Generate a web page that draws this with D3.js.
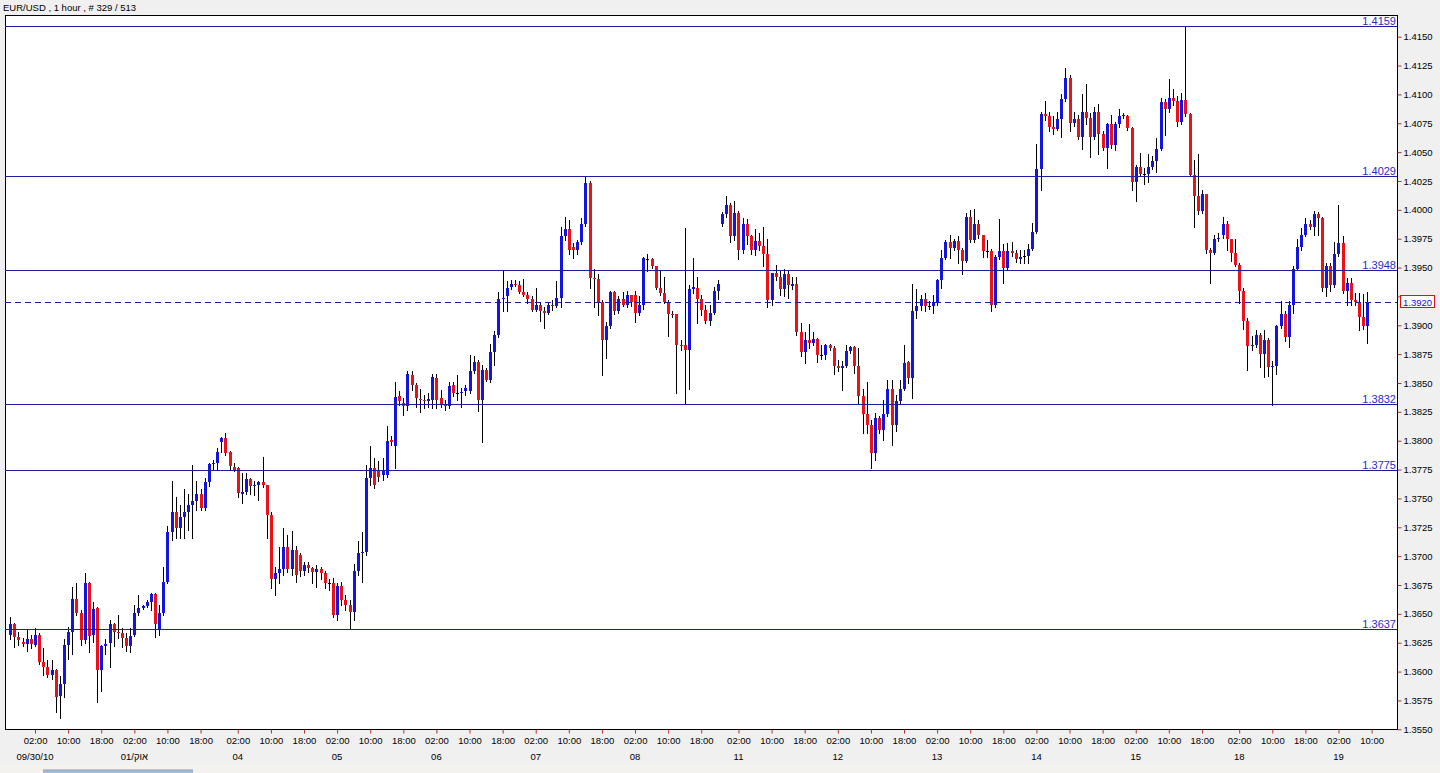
<!DOCTYPE html>
<html><head><meta charset="utf-8">
<script src="https://cdn.jsdelivr.net/npm/d3@7"></script>
<style>
html,body{margin:0;padding:0;background:#f0f0f0;overflow:hidden}
svg{display:block}
text{font-family:"Liberation Sans",Arial,sans-serif}
</style></head><body><svg id="c" width="1440" height="773"></svg>
<script>
// EUR/USD 1 hour candles, bar 0 .. 328
const open=[1.3632,1.3641,1.3630,1.3626,1.3624,1.3628,1.3623,1.3632,1.3608,1.3604,1.3597,1.3601,1.3579,1.3589,1.3623,1.3634,1.3663,1.3651,1.3627,1.3677,1.3632,1.3655,1.3601,1.3622,1.3625,1.3641,1.3634,1.3633,1.3629,1.3622,1.3632,1.3651,1.3655,1.3657,1.3660,1.3667,1.3636,1.3651,1.3678,1.3721,1.3738,1.3724,1.3734,1.3738,1.3744,1.3748,1.3754,1.3742,1.3764,1.3780,1.3781,1.3799,1.3802,1.3790,1.3777,1.3776,1.3754,1.3756,1.3767,1.3761,1.3762,1.3764,1.3762,1.3736,1.3680,1.3685,1.3689,1.3708,1.3689,1.3705,1.3701,1.3687,1.3692,1.3690,1.3686,1.3689,1.3685,1.3677,1.3677,1.3649,1.3674,1.3662,1.3658,1.3652,1.3687,1.3703,1.3704,1.3768,1.3776,1.3775,1.3770,1.3770,1.3801,1.3795,1.3839,1.3833,1.3830,1.3857,1.3848,1.3836,1.3835,1.3834,1.3835,1.3854,1.3837,1.3832,1.3830,1.3848,1.3841,1.3841,1.3843,1.3843,1.3860,1.3868,1.3835,1.3861,1.3853,1.3877,1.3892,1.3923,1.3925,1.3933,1.3936,1.3935,1.3929,1.3926,1.3923,1.3913,1.3918,1.3912,1.3911,1.3918,1.3917,1.3924,1.3977,1.3983,1.3968,1.3965,1.3972,1.3988,1.4023,1.3941,1.3940,1.3920,1.3887,1.3899,1.3929,1.3912,1.3923,1.3918,1.3926,1.3926,1.3911,1.3918,1.3957,1.3957,1.3951,1.3932,1.3928,1.3920,1.3910,1.3910,1.3883,1.3883,1.3879,1.3931,1.3932,1.3923,1.3913,1.3904,1.3911,1.3930,1.3988,1.3996,1.4004,1.3977,1.3997,1.3965,1.3988,1.3977,1.3965,1.3973,1.3969,1.3962,1.3922,1.3945,1.3942,1.3931,1.3944,1.3934,1.3936,1.3894,1.3877,1.3887,1.3885,1.3888,1.3874,1.3874,1.3883,1.3880,1.3865,1.3863,1.3865,1.3878,1.3881,1.3865,1.3839,1.3823,1.3814,1.3789,1.3820,1.3809,1.3823,1.3845,1.3814,1.3834,1.3845,1.3868,1.3854,1.3912,1.3917,1.3923,1.3917,1.3917,1.3920,1.3939,1.3958,1.3972,1.3967,1.3973,1.3965,1.3956,1.3994,1.3974,1.3988,1.3978,1.3964,1.3964,1.3918,1.3959,1.3964,1.3950,1.3964,1.3963,1.3957,1.3960,1.3960,1.3966,1.3981,1.4035,1.4083,1.4081,1.4072,1.4070,1.4079,1.4096,1.4114,1.4075,1.4079,1.4063,1.4085,1.4080,1.4063,1.4085,1.4066,1.4054,1.4074,1.4056,1.4074,1.4081,1.4081,1.4071,1.4024,1.4037,1.4031,1.4031,1.4037,1.4042,1.4053,1.4093,1.4087,1.4097,1.4094,1.4076,1.4095,1.4083,1.4030,1.4012,1.3999,1.4014,1.3965,1.3963,1.3975,1.3978,1.3988,1.3975,1.3963,1.3952,1.3930,1.3904,1.3882,1.3883,1.3892,1.3875,1.3887,1.3864,1.3865,1.3899,1.3910,1.3890,1.3918,1.3949,1.3968,1.3978,1.3988,1.3985,1.3996,1.3993,1.3932,1.3951,1.3935,1.3962,1.3971,1.3930,1.3937,1.3922,1.3920,1.3907,1.3899];
const high=[1.3647,1.3642,1.3634,1.3629,1.3637,1.3632,1.3638,1.3633,1.3620,1.3610,1.3610,1.3602,1.3596,1.3628,1.3639,1.3673,1.3677,1.3653,1.3685,1.3678,1.3660,1.3656,1.3623,1.3628,1.3645,1.3642,1.3649,1.3638,1.3633,1.3638,1.3658,1.3666,1.3658,1.3662,1.3668,1.3668,1.3658,1.3691,1.3726,1.3765,1.3751,1.3744,1.3758,1.3754,1.3779,1.3765,1.3758,1.3768,1.3781,1.3783,1.3794,1.3803,1.3807,1.3791,1.3781,1.3777,1.3772,1.3772,1.3768,1.3765,1.3765,1.3786,1.3762,1.3738,1.3691,1.3708,1.3724,1.3718,1.3722,1.3709,1.3703,1.3695,1.3695,1.3691,1.3692,1.3691,1.3687,1.3680,1.3681,1.3677,1.3678,1.3666,1.3662,1.3693,1.3713,1.3721,1.3779,1.3795,1.3785,1.3782,1.3785,1.3813,1.3804,1.3851,1.3843,1.3837,1.3860,1.3860,1.3850,1.3845,1.3840,1.3841,1.3858,1.3858,1.3844,1.3835,1.3851,1.3851,1.3857,1.3846,1.3848,1.3874,1.3873,1.3870,1.3866,1.3863,1.3884,1.3895,1.3929,1.3948,1.3938,1.3939,1.3939,1.3938,1.3940,1.3929,1.3925,1.3932,1.3919,1.3916,1.3920,1.3922,1.3938,1.3985,1.3994,1.3991,1.3971,1.3974,1.3993,1.4029,1.4025,1.3949,1.3944,1.3922,1.3903,1.3930,1.3930,1.3925,1.3929,1.3930,1.3926,1.3930,1.3925,1.3959,1.3962,1.3958,1.3951,1.3947,1.3942,1.3922,1.3912,1.3910,1.3887,1.3984,1.3935,1.3958,1.3942,1.3926,1.3918,1.3918,1.3933,1.3939,1.3998,1.4012,1.4006,1.4008,1.3999,1.3993,1.3992,1.3978,1.3983,1.3980,1.3985,1.3975,1.3945,1.3952,1.3947,1.3949,1.3948,1.3942,1.3942,1.3902,1.3894,1.3901,1.3894,1.3889,1.3883,1.3884,1.3884,1.3882,1.3870,1.3869,1.3883,1.3882,1.3882,1.3880,1.3845,1.3851,1.3818,1.3824,1.3821,1.3835,1.3853,1.3853,1.3840,1.3853,1.3883,1.3869,1.3936,1.3931,1.3926,1.3928,1.3921,1.3926,1.3940,1.3965,1.3974,1.3978,1.3975,1.3977,1.3967,1.3997,1.4000,1.4001,1.3991,1.3978,1.3974,1.3966,1.3961,1.3992,1.3970,1.3971,1.3972,1.3965,1.3965,1.3965,1.3970,1.3989,1.4057,1.4085,1.4094,1.4085,1.4081,1.4085,1.4100,1.4123,1.4117,1.4085,1.4082,1.4100,1.4109,1.4084,1.4089,1.4092,1.4068,1.4075,1.4082,1.4076,1.4087,1.4084,1.4082,1.4072,1.4039,1.4049,1.4036,1.4048,1.4047,1.4062,1.4097,1.4096,1.4113,1.4105,1.4099,1.4101,1.4159,1.4084,1.4043,1.4048,1.4017,1.4014,1.3967,1.3978,1.3980,1.3994,1.3990,1.3975,1.3975,1.3954,1.3932,1.3906,1.3891,1.3896,1.3893,1.3896,1.3889,1.3869,1.3900,1.3921,1.3912,1.3921,1.3951,1.3975,1.3984,1.3993,1.3991,1.3999,1.3998,1.3994,1.3954,1.3954,1.3972,1.4004,1.3977,1.3941,1.3941,1.3928,1.3928,1.3927,1.3929];
const low=[1.3628,1.3621,1.3623,1.3622,1.3618,1.3620,1.3622,1.3607,1.3597,1.3595,1.3594,1.3565,1.3560,1.3578,1.3611,1.3615,1.3649,1.3623,1.3625,1.3617,1.3626,1.3574,1.3583,1.3615,1.3604,1.3622,1.3629,1.3621,1.3618,1.3617,1.3631,1.3649,1.3654,1.3656,1.3653,1.3630,1.3632,1.3649,1.3677,1.3714,1.3716,1.3716,1.3716,1.3723,1.3716,1.3740,1.3740,1.3740,1.3761,1.3775,1.3775,1.3790,1.3788,1.3775,1.3774,1.3751,1.3746,1.3754,1.3754,1.3753,1.3749,1.3760,1.3716,1.3672,1.3666,1.3677,1.3684,1.3686,1.3684,1.3678,1.3683,1.3684,1.3686,1.3677,1.3673,1.3680,1.3672,1.3671,1.3647,1.3645,1.3658,1.3653,1.3638,1.3645,1.3684,1.3678,1.3701,1.3762,1.3759,1.3765,1.3766,1.3769,1.3796,1.3776,1.3831,1.3822,1.3827,1.3844,1.3829,1.3825,1.3828,1.3829,1.3828,1.3828,1.3829,1.3827,1.3828,1.3839,1.3835,1.3829,1.3840,1.3841,1.3859,1.3826,1.3799,1.3852,1.3851,1.3866,1.3890,1.3912,1.3912,1.3931,1.3934,1.3928,1.3925,1.3919,1.3912,1.3912,1.3904,1.3898,1.3910,1.3913,1.3916,1.3916,1.3974,1.3962,1.3958,1.3962,1.3970,1.3986,1.3932,1.3916,1.3909,1.3857,1.3872,1.3898,1.3910,1.3911,1.3917,1.3916,1.3917,1.3903,1.3909,1.3914,1.3947,1.3950,1.3931,1.3926,1.3919,1.3891,1.3907,1.3841,1.3879,1.3833,1.3845,1.3928,1.3902,1.3909,1.3902,1.3900,1.3910,1.3923,1.3986,1.3994,1.3972,1.3974,1.3957,1.3963,1.3970,1.3962,1.3961,1.3965,1.3951,1.3916,1.3918,1.3939,1.3926,1.3925,1.3924,1.3931,1.3892,1.3873,1.3867,1.3880,1.3883,1.3868,1.3871,1.3871,1.3879,1.3858,1.3860,1.3844,1.3864,1.3876,1.3859,1.3833,1.3807,1.3807,1.3776,1.3783,1.3807,1.3801,1.3821,1.3796,1.3808,1.3832,1.3844,1.3850,1.3837,1.3906,1.3913,1.3912,1.3914,1.3911,1.3918,1.3932,1.3957,1.3958,1.3965,1.3954,1.3944,1.3955,1.3972,1.3972,1.3976,1.3959,1.3959,1.3912,1.3916,1.3957,1.3937,1.3948,1.3960,1.3955,1.3954,1.3954,1.3954,1.3965,1.3980,1.4017,1.4078,1.4068,1.4066,1.4069,1.4063,1.4094,1.4068,1.4073,1.4061,1.4053,1.4074,1.4046,1.4061,1.4048,1.4052,1.4036,1.4054,1.4052,1.4072,1.4080,1.4069,1.4017,1.4008,1.4029,1.4022,1.4024,1.4035,1.4033,1.4052,1.4065,1.4085,1.4091,1.4073,1.4074,1.4081,1.4029,1.3985,1.3996,1.3997,1.3963,1.3937,1.3962,1.3973,1.3976,1.3965,1.3956,1.3951,1.3919,1.3897,1.3861,1.3879,1.3881,1.3864,1.3855,1.3856,1.3831,1.3858,1.3898,1.3886,1.3881,1.3911,1.3948,1.3965,1.3977,1.3983,1.3978,1.3978,1.3930,1.3925,1.3930,1.3933,1.3960,1.3928,1.3918,1.3918,1.3918,1.3896,1.3897,1.3885];
const close=[1.3641,1.3630,1.3627,1.3624,1.3628,1.3624,1.3632,1.3608,1.3604,1.3597,1.3601,1.3578,1.3589,1.3623,1.3634,1.3663,1.3651,1.3627,1.3677,1.3631,1.3654,1.3601,1.3622,1.3624,1.3641,1.3634,1.3633,1.3629,1.3622,1.3631,1.3651,1.3655,1.3657,1.3660,1.3667,1.3641,1.3651,1.3678,1.3721,1.3738,1.3724,1.3734,1.3738,1.3744,1.3748,1.3754,1.3742,1.3764,1.3780,1.3781,1.3790,1.3802,1.3789,1.3778,1.3775,1.3755,1.3756,1.3767,1.3761,1.3762,1.3764,1.3762,1.3736,1.3680,1.3685,1.3689,1.3708,1.3689,1.3705,1.3684,1.3687,1.3692,1.3690,1.3686,1.3689,1.3685,1.3677,1.3677,1.3649,1.3674,1.3662,1.3658,1.3652,1.3687,1.3703,1.3704,1.3768,1.3776,1.3762,1.3769,1.3775,1.3800,1.3799,1.3838,1.3834,1.3830,1.3858,1.3848,1.3837,1.3835,1.3834,1.3836,1.3855,1.3835,1.3831,1.3830,1.3847,1.3841,1.3841,1.3842,1.3846,1.3860,1.3868,1.3835,1.3861,1.3853,1.3877,1.3892,1.3923,1.3924,1.3932,1.3936,1.3935,1.3929,1.3926,1.3923,1.3913,1.3918,1.3912,1.3911,1.3918,1.3917,1.3924,1.3977,1.3983,1.3965,1.3965,1.3972,1.3988,1.4023,1.3941,1.3940,1.3920,1.3887,1.3899,1.3929,1.3912,1.3923,1.3918,1.3926,1.3920,1.3911,1.3918,1.3958,1.3957,1.3951,1.3932,1.3928,1.3920,1.3910,1.3909,1.3883,1.3882,1.3879,1.3931,1.3933,1.3923,1.3913,1.3904,1.3911,1.3930,1.3936,1.3996,1.4004,1.3977,1.3997,1.3965,1.3988,1.3977,1.3965,1.3973,1.3969,1.3962,1.3922,1.3945,1.3942,1.3931,1.3944,1.3935,1.3936,1.3894,1.3877,1.3887,1.3885,1.3888,1.3874,1.3874,1.3883,1.3880,1.3865,1.3863,1.3865,1.3878,1.3881,1.3865,1.3839,1.3823,1.3814,1.3789,1.3820,1.3809,1.3823,1.3845,1.3814,1.3834,1.3845,1.3867,1.3854,1.3912,1.3917,1.3923,1.3917,1.3917,1.3920,1.3939,1.3958,1.3972,1.3967,1.3973,1.3965,1.3956,1.3994,1.3974,1.3988,1.3978,1.3964,1.3964,1.3918,1.3959,1.3964,1.3950,1.3964,1.3963,1.3957,1.3959,1.3960,1.3966,1.3981,1.4035,1.4083,1.4081,1.4072,1.4070,1.4079,1.4096,1.4114,1.4075,1.4079,1.4063,1.4085,1.4080,1.4063,1.4085,1.4066,1.4054,1.4074,1.4056,1.4074,1.4081,1.4082,1.4071,1.4024,1.4037,1.4031,1.4031,1.4037,1.4042,1.4053,1.4093,1.4087,1.4097,1.4094,1.4076,1.4095,1.4083,1.4030,1.4012,1.3999,1.4014,1.3965,1.3963,1.3975,1.3976,1.3988,1.3975,1.3963,1.3952,1.3930,1.3904,1.3882,1.3883,1.3892,1.3875,1.3887,1.3864,1.3865,1.3899,1.3910,1.3890,1.3918,1.3949,1.3968,1.3978,1.3988,1.3985,1.3996,1.3993,1.3932,1.3951,1.3935,1.3962,1.3971,1.3930,1.3937,1.3922,1.3920,1.3907,1.3899,1.3920];

const priceTicks=[1.3550,1.3575,1.3600,1.3625,1.3650,1.3675,1.3700,1.3725,1.3750,1.3775,1.3800,1.3825,1.3850,1.3875,1.3900,1.3925,1.3950,1.3975,1.4000,1.4025,1.4050,1.4075,1.4100,1.4125,1.4150];
const timeTickBars=[6,14,22,30,38,46,55,63,71,79,87,95,103,111,119,127,135,143,151,159,167,176,184,192,200,208,216,224,232,240,248,256,264,272,280,288,297,305,313,321,329];
const timeTickLabels=["02:00","10:00","18:00","02:00","10:00","18:00","02:00","10:00","18:00","02:00","10:00","18:00","02:00","10:00","18:00","02:00","10:00","18:00","02:00","10:00","18:00","02:00","10:00","18:00","02:00","10:00","18:00","02:00","10:00","18:00","02:00","10:00","18:00","02:00","10:00","18:00","02:00","10:00","18:00","02:00","10:00"];
const dateBars=[6,30,55,79,103,127,151,176,200,224,248,272,297,321];
const dateLabels=["09/30/10","01/אוק","04","05","06","07","08","11","12","13","14","15","18","19"];
const levels=[1.4159,1.4029,1.3948,1.3832,1.3775,1.3637];
const bid=1.3920;
const title="EUR/USD , 1 hour , # 329 / 513";

const W=1440,H=773;
const P={left:5,right:1397,top:15,bottom:729};
const svg=d3.select("#c");
svg.append("rect").attr("width",W).attr("height",H).attr("fill","#f0f0f0");
svg.append("rect").attr("x",0).attr("y",764).attr("width",W).attr("height",9).attr("fill","#f4f2ee");
svg.append("rect").attr("x",43).attr("y",770).attr("width",150).attr("height",3).attr("fill","#a8bad0");
svg.append("rect").attr("x",43).attr("y",769.5).attr("width",150).attr("height",1).attr("fill","#8aa0bc");

svg.append("text").attr("x",3).attr("y",11).attr("font-size","9.5px").attr("fill","#000").text(title);

svg.append("rect").attr("x",P.left+0.5).attr("y",P.top+0.5)
  .attr("width",P.right-P.left).attr("height",P.bottom-P.top)
  .attr("fill","#fff").attr("stroke","#000").attr("shape-rendering","crispEdges");

const x=d3.scaleLinear().domain([0,328]).range([10.2,10.2+4.138*328]);
const y=d3.scaleLinear().domain([1.3550,1.4150]).range([729.3,36.7]);

const bars=d3.range(open.length).map(i=>({i,o:open[i],h:high[i],l:low[i],c:close[i]}));
const g=svg.append("g").attr("shape-rendering","crispEdges");
g.selectAll("line.w").data(bars).join("line").attr("class","w")
  .attr("x1",d=>Math.round(x(d.i))+0.5).attr("x2",d=>Math.round(x(d.i))+0.5)
  .attr("y1",d=>Math.round(y(d.h))).attr("y2",d=>Math.round(y(d.l))+1)
  .attr("stroke","#000").attr("stroke-width",1);
g.selectAll("rect.b").data(bars).join("rect").attr("class","b")
  .attr("x",d=>Math.round(x(d.i))-1).attr("width",3)
  .attr("y",d=>Math.round(y(Math.max(d.o,d.c))))
  .attr("height",d=>Math.max(1,Math.round(y(Math.min(d.o,d.c)))-Math.round(y(Math.max(d.o,d.c)))))
  .attr("fill",d=>d.c>d.o?"#1414e0":(d.c<d.o?"#ec1018":"#000"));

// level lines
const lv=svg.append("g");
levels.forEach(v=>{
  const yy=Math.round(y(v))+0.5;
  lv.append("line").attr("x1",P.left).attr("x2",P.right).attr("y1",yy).attr("y2",yy)
    .attr("stroke","#1c1ca6").attr("stroke-width",1);
  lv.append("text").attr("x",P.right-1).attr("y",yy-2).attr("text-anchor","end")
    .attr("font-size","11px").attr("fill","#2a2ac4").text(v.toFixed(4));
});
const by=Math.round(y(bid))+0.5;
lv.append("line").attr("x1",P.left).attr("x2",P.right).attr("y1",by).attr("y2",by)
  .attr("stroke","#1c1ca6").attr("stroke-width",1).attr("stroke-dasharray","6,4");

// y axis (the 1.3925 label sits under the bid box, as in the terminal)
const ya=svg.append("g").attr("transform",`translate(${P.right+0.5},0)`)
  .call(d3.axisRight(y).tickValues(priceTicks).tickFormat(d3.format(".4f")).tickSize(4).tickPadding(2));
ya.select(".domain").remove();
ya.selectAll(".tick line").attr("stroke","#b03030");
ya.selectAll(".tick text").attr("font-size","9.5px").attr("font-family","Liberation Sans, Arial, sans-serif").attr("fill","#000")
  .filter(d=>Math.abs(d-bid)<0.0010).remove();

// bid label box
svg.append("rect").attr("x",1400.5).attr("y",Math.round(y(bid))-6.5).attr("width",34).attr("height",12)
  .attr("fill","#fff").attr("stroke","#e01010");
svg.append("text").attr("x",1403).attr("y",Math.round(y(bid))+3.5).attr("font-size","9.5px").attr("fill","#1010e0").text(bid.toFixed(4));

// x axis
const xa=svg.append("g").attr("transform",`translate(0,${P.bottom+0.5})`)
  .call(d3.axisBottom(x).tickValues(timeTickBars).tickFormat((d,i)=>timeTickLabels[i]).tickSize(4).tickPadding(4));
xa.select(".domain").remove();
xa.selectAll(".tick line").attr("stroke","#b03030");
xa.selectAll(".tick text").attr("font-size","9.5px").attr("font-family","Liberation Sans, Arial, sans-serif").attr("fill","#000");

svg.append("g").selectAll("text").data(dateBars).join("text")
  .attr("x",d=>x(d)).attr("y",760).attr("text-anchor","middle")
  .attr("font-size","9.5px").attr("fill","#000").text((d,i)=>dateLabels[i]);
</script></body></html>
